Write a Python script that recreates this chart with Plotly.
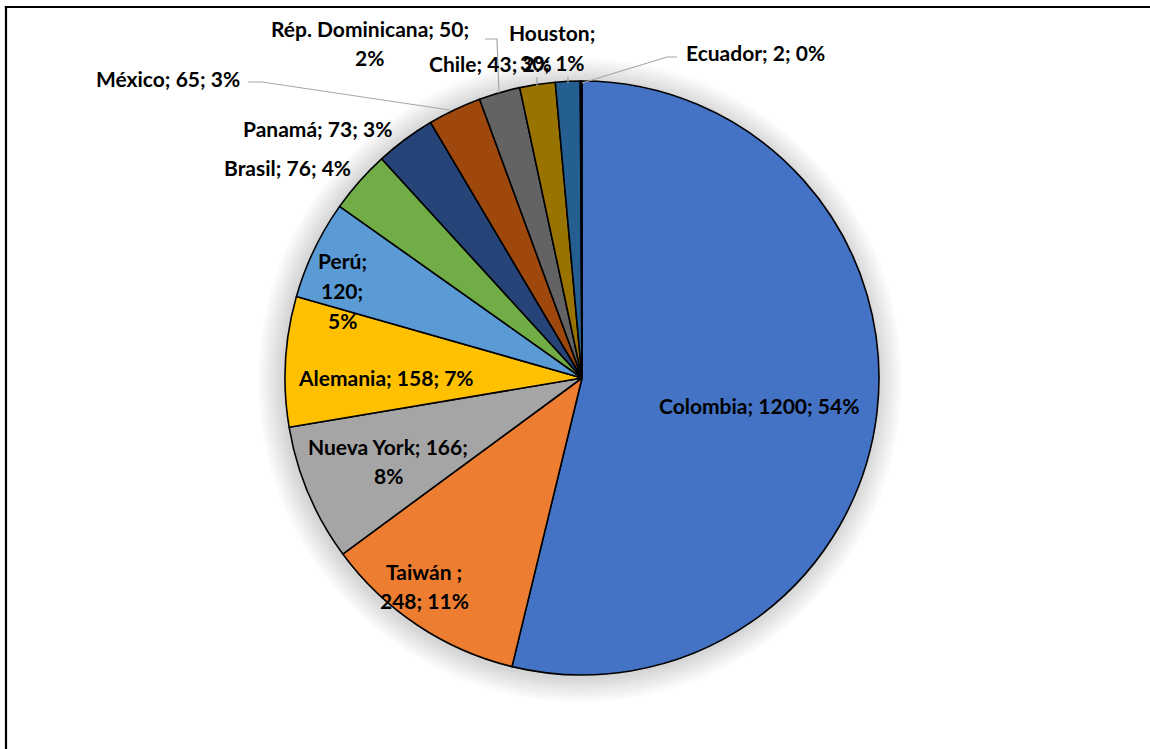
import plotly.graph_objects as go

W, H = 1150, 749

# data
paises = ['Colombia', 'Taiwán', 'Nueva York', 'Alemania', 'Perú', 'Brasil',
          'Panamá', 'México', 'Rép. Dominicana', 'Chile', 'Houston', 'Ecuador']
valores = [1200, 248, 166, 158, 120, 76, 73, 65, 50, 43, 30, 2]
porcentajes = ['54%', '11%', '8%', '7%', '5%', '4%', '3%', '3%', '2%', '2%', '1%', '0%']
colores = ['#4472C4', '#ED7D31', '#A5A5A5', '#FFC000', '#5B9BD5', '#70AD47',
           '#264478', '#9E480E', '#636363', '#997300', '#255E91', '#43682B']


def px(x, y):
    return x / W, 1 - y / H


# pie geometry in pixels
cx, cy, r = 582, 378, 297

fig = go.Figure()
fig.add_trace(go.Pie(
    labels=paises,
    values=valores,
    sort=False,
    direction='clockwise',
    rotation=0,
    marker=dict(colors=colores, line=dict(color='black', width=1.6)),
    textinfo='none',
    hoverinfo='label+value+percent',
    domain=dict(x=[(cx - r) / W, (cx + r) / W], y=[1 - (cy + r) / H, 1 - (cy - r) / H]),
    showlegend=False,
))


def partes(i):
    return [paises[i] + ';', str(valores[i]) + ';', porcentajes[i]]


# how each label is broken into lines: (lines, x, y of first line, anchor)
p = [partes(i) for i in range(len(paises))]
etiquetas = [
    ([' '.join(p[0])], 759, 405, 'center'),
    (['Taiwán ;', ' '.join(p[1][1:])], 424, 571, 'center'),
    (['Nueva York; ' + p[2][1], p[2][2]], 388, 446, 'center'),
    ([' '.join(p[3])], 386, 377, 'center'),
    (p[4], 342, 261, 'center'),
    ([' '.join(p[5])], 287, 167, 'center'),
    ([' '.join(p[6])], 317, 128, 'center'),
    ([' '.join(p[7])], 168, 78, 'center'),
    ([' '.join(p[8][:2]), p[8][2]], 370, 28, 'center'),
    ([' '.join(p[9])], 427, 63, 'left'),
    ([p[10][0], ' '.join(p[10][1:])], 552, 33, 'center'),
    ([' '.join(p[11])], 755, 53, 'center'),
]

annotations = []
for lineas, x, y, anchor in etiquetas:
    for k, t in enumerate(lineas):
        ax, ay = px(x, y + k * 29.5)
        annotations.append(dict(
            x=ax, y=ay, xref='paper', yref='paper', text='<b>' + t + '</b>',
            showarrow=False, xanchor=anchor, yanchor='middle',
            font=dict(family='Lato', size=21, color='black'),
        ))

shapes = []
# soft shadow halo behind the pie
for k in range(14):
    rr = r + 2 + k * 1.8
    x0, y0 = px(cx - rr - 2, cy + rr + 2)
    x1, y1 = px(cx + rr - 2, cy - rr + 2)
    shapes.append(dict(type='circle', xref='paper', yref='paper', x0=x0, y0=y0, x1=x1, y1=y1,
                       fillcolor='rgba(0,0,0,0.012)', line=dict(width=0), layer='below'))

# leader lines
lideres = [
    [(248, 82), (262, 82), (450, 110)],
    [(485, 39), (497, 39), (499, 93)],
    [(537, 77), (537, 86)],
    [(568, 77), (568, 83)],
    [(677, 57), (667, 57), (582, 83)],
]
for pts in lideres:
    path = ' '.join(('M' if j == 0 else 'L') + ' %.5f %.5f' % px(*pt) for j, pt in enumerate(pts))
    shapes.append(dict(type='path', xref='paper', yref='paper', path=path,
                       line=dict(color='#A6A6A6', width=1.2)))

# chart frame
fx0, fy0 = px(6, 7)
fx1, fy1 = px(1150, 749)
shapes.append(dict(type='line', xref='paper', yref='paper', x0=fx0 - 0.001, y0=fy0, x1=fx1, y1=fy0,
                   line=dict(color='black', width=2.2)))
shapes.append(dict(type='line', xref='paper', yref='paper', x0=fx0, y0=fy0, x1=fx0, y1=fy1,
                   line=dict(color='black', width=2.2)))

fig.update_layout(
    width=W, height=H,
    margin=dict(l=0, r=0, t=0, b=0),
    paper_bgcolor='white',
    plot_bgcolor='white',
    annotations=annotations,
    shapes=shapes,
)

fig.write_html('out.html', config={'displayModeBar': False},
               post_script="document.body.style.margin='0';")
